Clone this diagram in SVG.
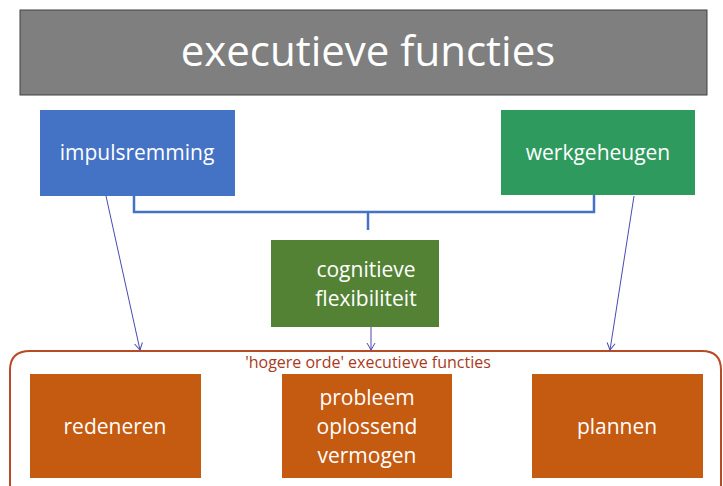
<svg xmlns="http://www.w3.org/2000/svg" width="723" height="486" viewBox="0 0 723 486">
<defs>
<style>
.t{font-family:"Open Sans","DejaVu Sans",sans-serif;fill:#ffffff;text-anchor:middle}
.b{font-size:21px}
.line{fill:none;stroke:#4472c4;stroke-width:2.5}
.arr{fill:none;stroke:#4a4ab0;stroke-width:1}
</style>
<marker id="ah" markerWidth="10" markerHeight="10" refX="8" refY="5" orient="auto" markerUnits="userSpaceOnUse">
<path d="M1,1 L8,5 L1,9" fill="none" stroke="#4a4ab0" stroke-width="1"/>
</marker>
</defs>
<rect width="723" height="486" fill="#ffffff"/>
<g id="title">
<rect x="20" y="10" width="687" height="85" fill="#7f7f7f" stroke="#404040" stroke-width="1"/>
<text class="t" x="368" y="66" font-size="42">executieve functies</text>
</g>
<g id="hogere-orde">
<path d="M30,351 H702 Q721,351 721,370 V492 H10 V370 Q10,351 30,351 Z" fill="none" stroke="#b84a26" stroke-width="2"/>
<text x="368" y="368" font-family="Open Sans, DejaVu Sans, sans-serif" font-size="16" fill="#a83a22" text-anchor="middle">'hogere orde' executieve functies</text>
</g>
<g id="connectors">
<path class="line" d="M134,196 V212 H594 V195 M368,212 V230"/>
<line class="arr" x1="106" y1="196" x2="140" y2="350" marker-end="url(#ah)"/>
<line class="arr" x1="634" y1="196" x2="610" y2="350" marker-end="url(#ah)"/>
<line class="arr" x1="371" y1="327" x2="371" y2="350" marker-end="url(#ah)"/>
</g>
<g id="impulsremming">
<rect x="40" y="110" width="195" height="86" fill="#4472c4"/>
<text class="t b" x="137" y="160">impulsremming</text>
</g>
<g id="werkgeheugen">
<rect x="501" y="110" width="194" height="85" fill="#2e9a5e"/>
<text class="t b" x="598" y="160">werkgeheugen</text>
</g>
<g id="cognitieve">
<rect x="271" y="240" width="168" height="87" fill="#548235"/>
<text class="t b" x="366" y="277">cognitieve</text>
<text class="t b" x="366" y="306">flexibiliteit</text>
</g>
<g id="redeneren">
<rect x="30" y="374" width="171" height="104" fill="#c55a11"/>
<text class="t b" x="115" y="434">redeneren</text>
</g>
<g id="probleem">
<rect x="282" y="374" width="170" height="104" fill="#c55a11"/>
<text class="t b" x="367" y="405">probleem</text>
<text class="t b" x="367" y="434">oplossend</text>
<text class="t b" x="367" y="463">vermogen</text>
</g>
<g id="plannen">
<rect x="532" y="374" width="171" height="104" fill="#c55a11"/>
<text class="t b" x="617" y="434">plannen</text>
</g>
</svg>
